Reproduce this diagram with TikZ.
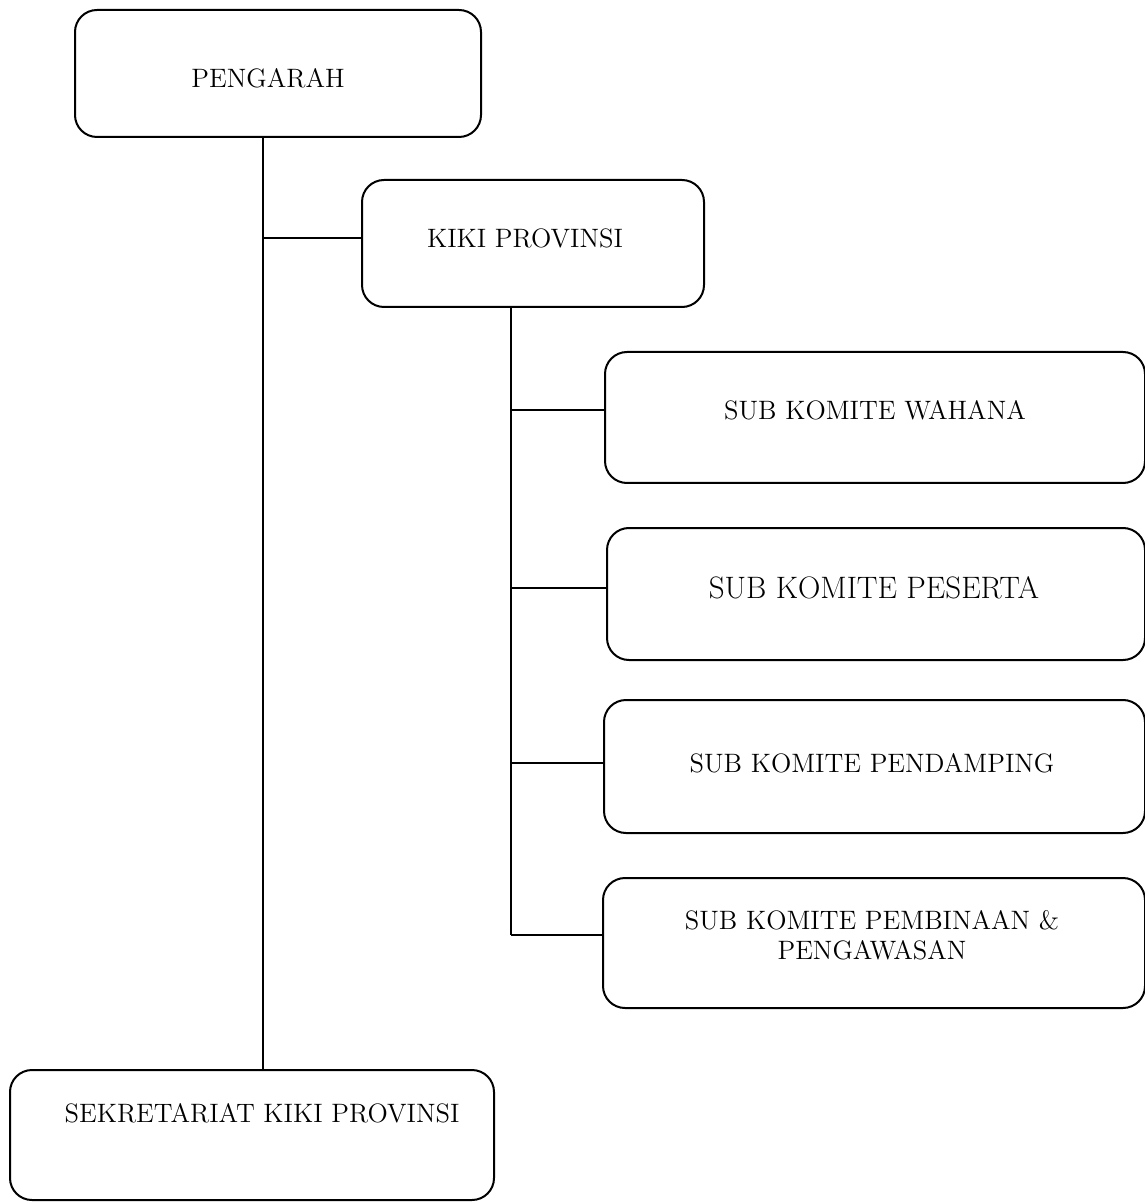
\documentclass[tikz,border=0pt]{standalone}
\usepackage{tikz}
\usetikzlibrary{positioning}

\tikzset{
	unit/.style={draw, line width=1pt, rounded corners=11pt, inner sep=0pt},
	tag/.style={font=\fontsize{13.3}{15}\selectfont, align=center, inner sep=0pt}
}

\begin{document}
\begin{tikzpicture}[x=0.5pt,y=-0.5pt]
				\useasboundingbox (0,0) rectangle (1144,1202);
				% boxes
				\node[unit, minimum width=203pt, minimum height=63.5pt] (pengarah) at (278,73.5) {};
				\node[unit, minimum width=171pt, minimum height=63.5pt] (kiki) at (533,243.5) {};
				\node[unit, minimum width=270pt, minimum height=65.5pt] (wahana) at (875,417.5) {};
				\node[unit, minimum width=269pt, minimum height=66pt] (peserta) at (876,594) {};
				\node[unit, minimum width=270.5pt, minimum height=66.5pt] (pendamping) at (874.5,766.5) {};
				\node[unit, minimum width=271pt, minimum height=65pt] (pembinaan) at (874,943) {};
				\node[unit, minimum width=242pt, minimum height=65pt] (sekretariat) at (252,1135) {};
				% texts
				\node[tag] (pengarah-t) at (268,78) {PENGARAH};
				\node[tag] (kiki-t) at (525,238) {KIKI PROVINSI};
				\node[tag] (wahana-t) at (875,410) {SUB KOMITE WAHANA};
				\node[tag, font=\fontsize{15.5}{17}\selectfont] (peserta-t) at (874,588) {SUB KOMITE PESERTA};
				\node[tag] (pendamping-t) at (872,763) {SUB KOMITE PENDAMPING};
				\node[tag] (pembinaan-t) at (872,935) {SUB KOMITE PEMBINAAN \&\\PENGAWASAN};
				\node[tag] (sekretariat-t) at (262,1113) {SEKRETARIAT KIKI PROVINSI};
				% lines
				\coordinate (trunk) at (263,0);
				\coordinate (branch) at (511,0);
				\draw[line width=1pt] (pengarah.south -| trunk) -- (sekretariat.north -| trunk);
				\draw[line width=1pt] (trunk |- kiki-t) -- (kiki.west |- kiki-t);
				\draw[line width=1pt] (kiki.south -| branch) -- (branch |- pembinaan-t);
				\draw[line width=1pt] (branch |- wahana-t) -- (wahana.west |- wahana-t);
				\draw[line width=1pt] (branch |- peserta-t) -- (peserta.west |- peserta-t);
				\draw[line width=1pt] (branch |- pendamping-t) -- (pendamping.west |- pendamping-t);
				\draw[line width=1pt] (branch |- pembinaan-t) -- (pembinaan.west |- pembinaan-t);
			\end{tikzpicture}
\end{document}
